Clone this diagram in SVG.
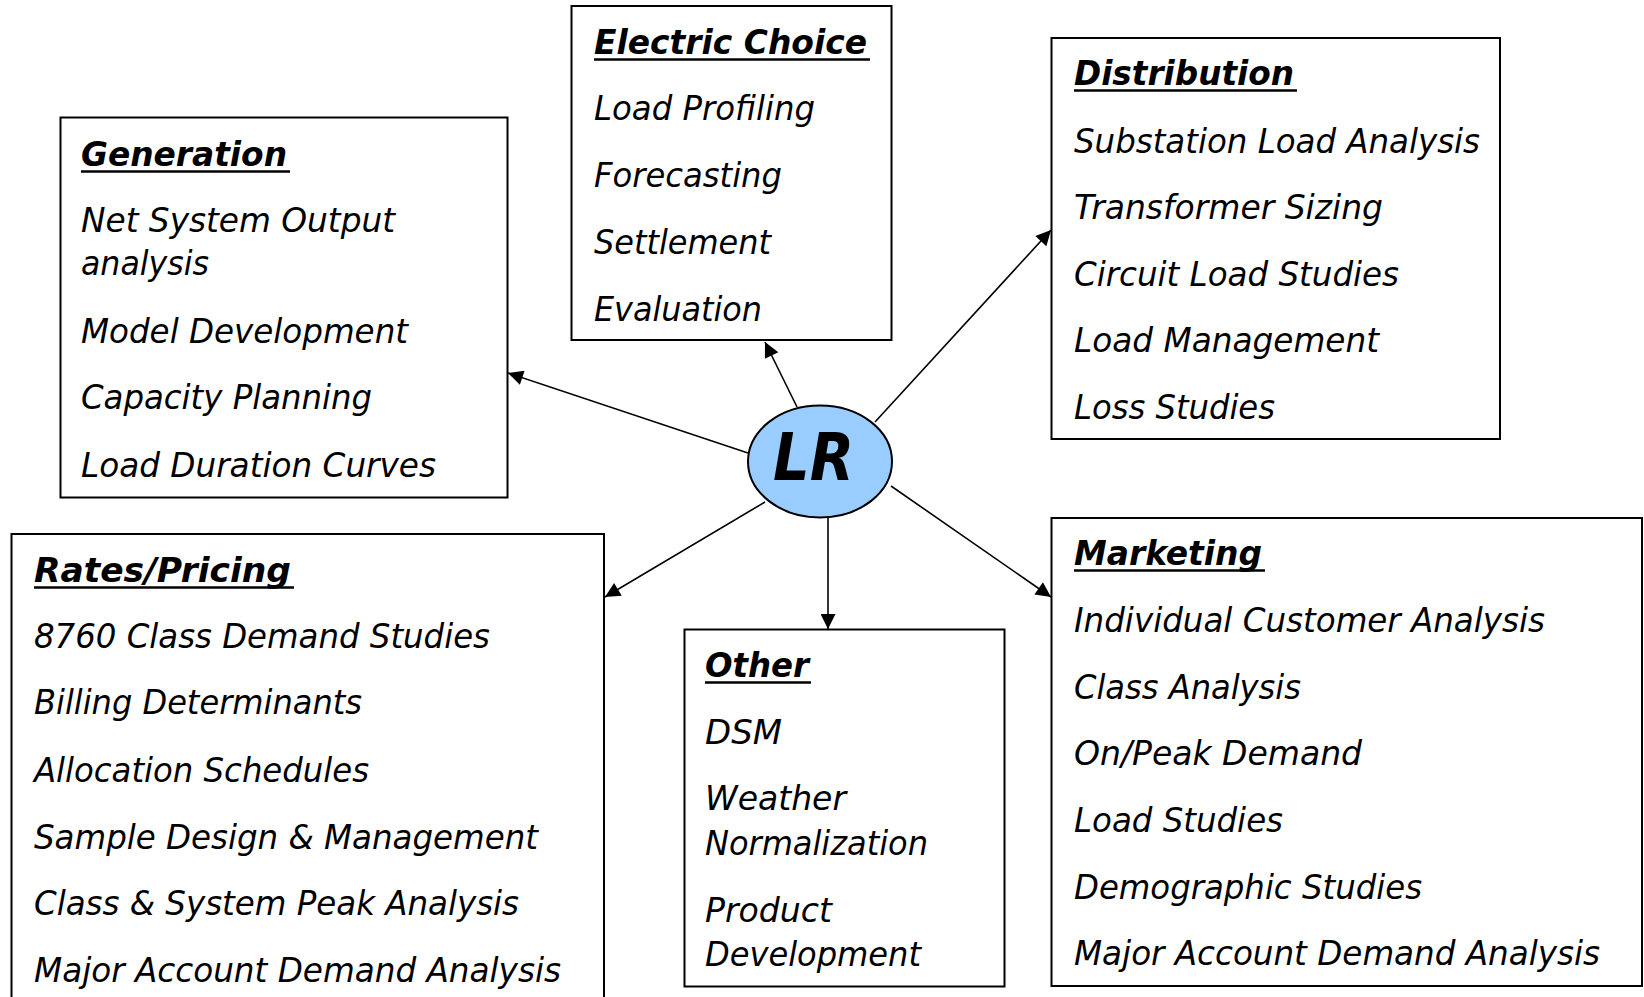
<svg xmlns="http://www.w3.org/2000/svg" width="1644" height="997" viewBox="0 0 1644 997">
<style>
.box{fill:#fff;stroke:#000;stroke-width:2}
.h{font-family:"DejaVu Sans Condensed","DejaVu Sans",sans-serif;font-stretch:condensed;font-weight:bold;font-style:italic;font-size:34px;fill:#000}
.t{font-family:"DejaVu Sans Condensed","DejaVu Sans",sans-serif;font-stretch:condensed;font-style:italic;font-size:34px;fill:#000}
.u{stroke:#000;stroke-width:2.6}
.c{stroke:#000;stroke-width:1.6;fill:none;marker-end:url(#ah)}
.lr{font-family:"DejaVu Sans Condensed","DejaVu Sans",sans-serif;font-stretch:condensed;font-weight:bold;font-style:italic;font-size:66px;fill:#000}
</style>
<defs>
<marker id="ah" viewBox="0 0 10 10" refX="10" refY="5" markerWidth="20" markerHeight="15" markerUnits="userSpaceOnUse" orient="auto">
<path d="M0,0 L10,5 L0,10 z" fill="#000"/>
</marker>
</defs>
<rect width="1644" height="997" fill="#fff"/>
<g id="connectors">
<line class="c" x1="748" y1="453" x2="508" y2="373"/>
<line class="c" x1="797" y1="407" x2="765" y2="342"/>
<line class="c" x1="875" y1="422" x2="1051" y2="230"/>
<line class="c" x1="765" y1="502" x2="605" y2="597"/>
<line class="c" x1="828" y1="518" x2="828" y2="629"/>
<line class="c" x1="891" y1="486" x2="1051" y2="597"/>
</g>
<g id="generation">
<rect class="box" x="60.5" y="117.5" width="447" height="380"/>
<text class="h" x="81" y="166" textLength="206" lengthAdjust="spacingAndGlyphs">Generation</text>
<line class="u" x1="81" y1="171.5" x2="290" y2="171.5"/>
<text class="t" x="81" y="232" textLength="314" lengthAdjust="spacingAndGlyphs">Net System Output</text>
<text class="t" x="81" y="275" textLength="128" lengthAdjust="spacingAndGlyphs">analysis</text>
<text class="t" x="81" y="343" textLength="327" lengthAdjust="spacingAndGlyphs">Model Development</text>
<text class="t" x="81" y="409" textLength="291" lengthAdjust="spacingAndGlyphs">Capacity Planning</text>
<text class="t" x="81" y="477" textLength="355" lengthAdjust="spacingAndGlyphs">Load Duration Curves</text>
</g>
<g id="electric-choice">
<rect class="box" x="571.5" y="6" width="320" height="334"/>
<text class="h" x="594" y="54" textLength="273" lengthAdjust="spacingAndGlyphs">Electric Choice</text>
<line class="u" x1="594" y1="59.5" x2="870" y2="59.5"/>
<text class="t" x="594" y="120" textLength="221" lengthAdjust="spacingAndGlyphs">Load Profiling</text>
<text class="t" x="594" y="187" textLength="188" lengthAdjust="spacingAndGlyphs">Forecasting</text>
<text class="t" x="594" y="254" textLength="177" lengthAdjust="spacingAndGlyphs">Settlement</text>
<text class="t" x="594" y="321" textLength="168" lengthAdjust="spacingAndGlyphs">Evaluation</text>
</g>
<g id="distribution">
<rect class="box" x="1051.5" y="38" width="448.5" height="401"/>
<text class="h" x="1074" y="85" textLength="220" lengthAdjust="spacingAndGlyphs">Distribution</text>
<line class="u" x1="1074" y1="90.5" x2="1297" y2="90.5"/>
<text class="t" x="1074" y="153" textLength="406" lengthAdjust="spacingAndGlyphs">Substation Load Analysis</text>
<text class="t" x="1074" y="219" textLength="309" lengthAdjust="spacingAndGlyphs">Transformer Sizing</text>
<text class="t" x="1074" y="286" textLength="325" lengthAdjust="spacingAndGlyphs">Circuit Load Studies</text>
<text class="t" x="1074" y="352" textLength="305" lengthAdjust="spacingAndGlyphs">Load Management</text>
<text class="t" x="1074" y="419" textLength="201" lengthAdjust="spacingAndGlyphs">Loss Studies</text>
</g>
<g id="lr">
<ellipse cx="820" cy="461.5" rx="72" ry="56" fill="#99CCFF" stroke="#000" stroke-width="2"/>
<text class="lr" x="773" y="480" textLength="81" lengthAdjust="spacingAndGlyphs">LR</text>
</g>
<g id="rates-pricing">
<rect class="box" x="11.5" y="534" width="592.5" height="480"/>
<text class="h" x="34" y="582" textLength="257" lengthAdjust="spacingAndGlyphs">Rates/Pricing</text>
<line class="u" x1="34" y1="587.5" x2="294" y2="587.5"/>
<text class="t" x="34" y="648" textLength="456" lengthAdjust="spacingAndGlyphs">8760 Class Demand Studies</text>
<text class="t" x="34" y="714" textLength="328" lengthAdjust="spacingAndGlyphs">Billing Determinants</text>
<text class="t" x="34" y="782" textLength="335" lengthAdjust="spacingAndGlyphs">Allocation Schedules</text>
<text class="t" x="34" y="849" textLength="504" lengthAdjust="spacingAndGlyphs">Sample Design &amp; Management</text>
<text class="t" x="34" y="915" textLength="485" lengthAdjust="spacingAndGlyphs">Class &amp; System Peak Analysis</text>
<text class="t" x="34" y="982" textLength="527" lengthAdjust="spacingAndGlyphs">Major Account Demand Analysis</text>
</g>
<g id="other">
<rect class="box" x="684.5" y="629.5" width="320" height="357"/>
<text class="h" x="705" y="677" textLength="104" lengthAdjust="spacingAndGlyphs">Other</text>
<line class="u" x1="705" y1="682.5" x2="811" y2="682.5"/>
<text class="t" x="705" y="744" textLength="77" lengthAdjust="spacingAndGlyphs">DSM</text>
<text class="t" x="705" y="810" textLength="141" lengthAdjust="spacingAndGlyphs">Weather</text>
<text class="t" x="705" y="855" textLength="223" lengthAdjust="spacingAndGlyphs">Normalization</text>
<text class="t" x="705" y="922" textLength="127" lengthAdjust="spacingAndGlyphs">Product</text>
<text class="t" x="705" y="966" textLength="216" lengthAdjust="spacingAndGlyphs">Development</text>
</g>
<g id="marketing">
<rect class="box" x="1051.5" y="518" width="590.5" height="468"/>
<text class="h" x="1074" y="565" textLength="188" lengthAdjust="spacingAndGlyphs">Marketing</text>
<line class="u" x1="1074" y1="570.5" x2="1265" y2="570.5"/>
<text class="t" x="1074" y="632" textLength="471" lengthAdjust="spacingAndGlyphs">Individual Customer Analysis</text>
<text class="t" x="1074" y="699" textLength="227" lengthAdjust="spacingAndGlyphs">Class Analysis</text>
<text class="t" x="1074" y="765" textLength="288" lengthAdjust="spacingAndGlyphs">On/Peak Demand</text>
<text class="t" x="1074" y="832" textLength="209" lengthAdjust="spacingAndGlyphs">Load Studies</text>
<text class="t" x="1074" y="899" textLength="348" lengthAdjust="spacingAndGlyphs">Demographic Studies</text>
<text class="t" x="1074" y="965" textLength="526" lengthAdjust="spacingAndGlyphs">Major Account Demand Analysis</text>
</g>
</svg>
